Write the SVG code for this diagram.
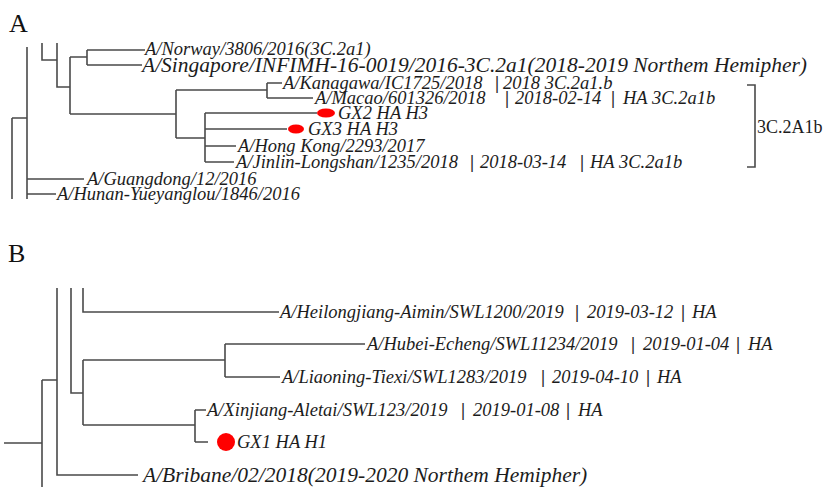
<svg xmlns="http://www.w3.org/2000/svg" width="827" height="487" viewBox="0 0 827 487">
<style>
  .ln { fill: none; stroke: #4a4a4a; stroke-width: 1.6; }
  .t { font-family: "Liberation Serif", "Times New Roman", serif; font-style: italic; font-size: 18.5px; fill: #1c1c1c; }
  .tb { font-family: "Liberation Serif", "Times New Roman", serif; font-style: italic; font-size: 21.5px; fill: #1c1c1c; }
  .bar { font-style: normal; font-weight: bold; fill: #2a2a2a; }
  .lab { font-family: "Liberation Serif", "Times New Roman", serif; font-size: 26px; fill: #111; }
  .clade { font-family: "Liberation Serif", "Times New Roman", serif; font-size: 18px; fill: #1c1c1c; }
  .dot { fill: #ff0000; }
</style>
<rect width="827" height="487" fill="#ffffff"/>

<text class="lab" x="9" y="32">A</text>
<text class="lab" x="8" y="262">B</text>

<g id="connectors">
  <!-- Tree A -->
  <path class="ln" d="M12,118 V199 M12,118 H27 M27,47 V199 M27,179 H84 M27,194 H56"/>
  <path class="ln" d="M42,43 V60 H57 M57,43 V87 H70 M70,57 V114 M70,57 H87 M87,50 V65 M87,50 H145 M87,65 H142"/>
  <path class="ln" d="M70,114 H176 M176,90 V138 M176,90 H267 M267,83 V98 M267,83 H282 M267,98 H313"/>
  <path class="ln" d="M176,138 H205 M205,113 V162 M205,113 H317 M205,129 H287 M205,146 H236 M205,162 H234"/>
  <path class="ln" d="M747,85 H755 V167 H747" stroke-width="2"/>
  <!-- Tree B -->
  <path class="ln" d="M4,443 H42 M42,380 V487 M42,380 H57 M57,288 V475 H138"/>
  <path class="ln" d="M71,288 V393 H83 M83,288 V312 H279"/>
  <path class="ln" d="M83,360 V425 M83,360 H225 M83,425 H195"/>
  <path class="ln" d="M225,344 V377 M225,344 H365 M225,377 H280"/>
  <path class="ln" d="M195,410 V442 M195,410 H206 M195,442 H208"/>
</g>

<!-- Tree A leaves -->
<g id="norway"><text class="t" x="145" y="55">A/Norway/3806/2016(3C.2a1)</text></g>
<g id="singapore"><text class="tb" x="142" y="72">A/Singapore/INFIMH-16-0019/2016-3C.2a1(2018-2019 Northem Hemipher)</text></g>
<g id="kanagawa"><text class="t" x="283" y="89">A/Kanagawa/IC1725/2018<tspan class="bar" x="495">|</tspan><tspan x="503">2018 3C.2a1.b</tspan></text></g>
<g id="macao"><text class="t" x="315" y="104">A/Macao/601326/2018<tspan class="bar" x="505">|</tspan><tspan x="515">2018-02-14</tspan><tspan class="bar" x="611">|</tspan><tspan x="623">HA 3C.2a1b</tspan></text></g>
<g id="gx2"><ellipse class="dot" cx="326" cy="113" rx="9" ry="4.5"/><text class="t" x="338" y="119">GX2 HA H3</text></g>
<g id="gx3"><ellipse class="dot" cx="296" cy="129" rx="8" ry="4.5"/><text class="t" x="308" y="135">GX3 HA H3</text></g>
<g id="hongkong"><text class="t" x="238" y="152">A/Hong Kong/2293/2017</text></g>
<g id="jinlin"><text class="t" x="236" y="168">A/Jinlin-Longshan/1235/2018<tspan class="bar" x="470">|</tspan><tspan x="480">2018-03-14</tspan><tspan class="bar" x="580">|</tspan><tspan x="590">HA 3C.2a1b</tspan></text></g>
<g id="guangdong"><text class="t" x="87" y="185">A/Guangdong/12/2016</text></g>
<g id="hunan"><text class="t" x="57" y="200">A/Hunan-Yueyanglou/1846/2016</text></g>
<g id="clade-3c2a1b"><text class="clade" x="757" y="133">3C.2A1b</text></g>

<!-- Tree B leaves -->
<g id="heilongjiang"><text class="t" x="280" y="318">A/Heilongjiang-Aimin/SWL1200/2019<tspan class="bar" x="575">|</tspan><tspan x="587">2019-03-12</tspan><tspan class="bar" x="681">|</tspan><tspan x="692">HA</tspan></text></g>
<g id="hubei"><text class="t" x="367" y="350">A/Hubei-Echeng/SWL11234/2019<tspan class="bar" x="631">|</tspan><tspan x="643">2019-01-04</tspan><tspan class="bar" x="736">|</tspan><tspan x="748">HA</tspan></text></g>
<g id="liaoning"><text class="t" x="282" y="383">A/Liaoning-Tiexi/SWL1283/2019<tspan class="bar" x="541">|</tspan><tspan x="552">2019-04-10</tspan><tspan class="bar" x="646">|</tspan><tspan x="657">HA</tspan></text></g>
<g id="xinjiang"><text class="t" x="207" y="416">A/Xinjiang-Aletai/SWL123/2019<tspan class="bar" x="461">|</tspan><tspan x="473">2019-01-08</tspan><tspan class="bar" x="566">|</tspan><tspan x="578">HA</tspan></text></g>
<g id="gx1"><circle class="dot" cx="226" cy="442" r="9"/><text class="t" x="237" y="448">GX1 HA H1</text></g>
<g id="bribane"><text class="tb" x="143" y="482">A/Bribane/02/2018(2019-2020 Northem Hemipher)</text></g>
</svg>
